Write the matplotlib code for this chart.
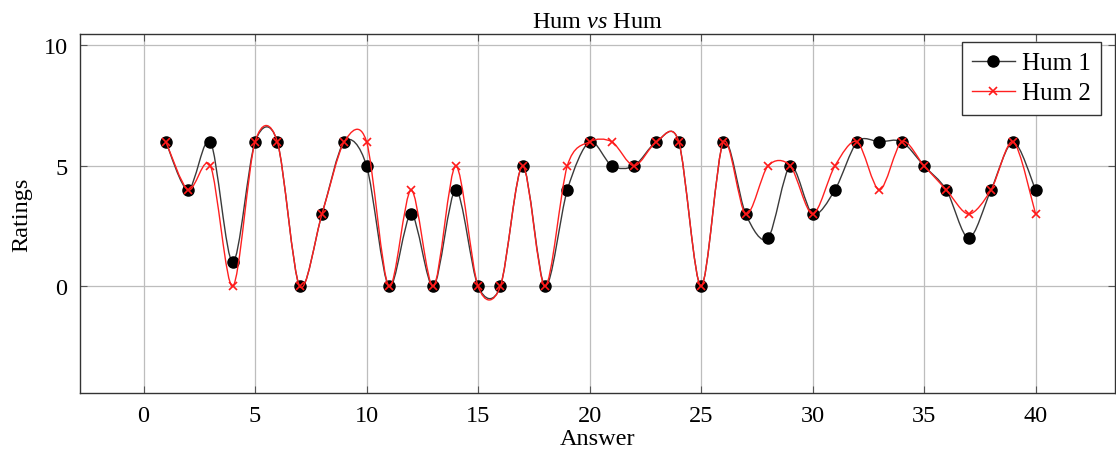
import matplotlib
matplotlib.use('Agg')
import matplotlib.pyplot as plt
import numpy as np
from matplotlib.path import Path
from matplotlib.patches import PathPatch
from matplotlib.lines import Line2D

# Данные
answers = np.arange(1, 41)
hum1 = [6, 4, 6, 1, 6, 6, 0, 3, 6, 5, 0, 3, 0, 4, 0, 0, 5, 0, 4, 6,
        5, 5, 6, 6, 0, 6, 3, 2, 5, 3, 4, 6, 6, 6, 5, 4, 2, 4, 6, 4]
hum2 = [6, 4, 5, 0, 6, 6, 0, 3, 6, 6, 0, 4, 0, 5, 0, 0, 5, 0, 5, 6,
        6, 5, 6, 6, 0, 6, 3, 5, 5, 3, 5, 6, 4, 6, 5, 4, 3, 4, 6, 3]
x_ticks = [0, 5, 10, 15, 20, 25, 30, 35, 40]
y_ticks = [0, 5, 10]

plt.rcParams['font.family'] = ['Liberation Serif', 'DejaVu Serif']
plt.rcParams['mathtext.fontset'] = 'custom'
plt.rcParams['mathtext.it'] = 'Liberation Serif:italic'
plt.rcParams['mathtext.rm'] = 'Liberation Serif'
FS = 17.5


def smooth_path(xs, ys, tension=0.15):
    # гладкая кривая как "smooth" в TikZ (кубические Безье)
    pts = np.column_stack([xs, ys]).astype(float)
    n = len(pts)
    verts = [pts[0]]
    codes = [Path.MOVETO]
    for i in range(n - 1):
        p0 = pts[i - 1] if i > 0 else pts[i]
        p1 = pts[i]
        p2 = pts[i + 1]
        p3 = pts[i + 2] if i + 2 < n else pts[i + 1]
        c1 = p1 + tension * (p2 - p0)
        c2 = p2 - tension * (p3 - p1)
        verts += [c1, c2, p2]
        codes += [Path.CURVE4] * 3
    return Path(verts, codes)


fig = plt.figure(figsize=(11.16, 4.52), dpi=100)
ax = fig.add_axes([80 / 1116, 1 - 394 / 452, 1035 / 1116, (394 - 35) / 452])

ax.add_patch(PathPatch(smooth_path(answers, hum1), fill=False,
                       edgecolor='#3a3a3a', lw=1.0, zorder=3))
ax.plot(answers, hum1, 'o', color='black', markersize=8, zorder=4)
ax.add_patch(PathPatch(smooth_path(answers, hum2), fill=False,
                       edgecolor='#ff2020', lw=1.0, zorder=5))
ax.plot(answers, hum2, 'x', color='#ff1a1a', markersize=5.5, mew=1.2, zorder=6)

ax.set_xlim(-2.85, 43.56)
ax.set_ylim(-4.42, 10.47)
ax.set_xticks(x_ticks)
ax.set_yticks(y_ticks)
ax.tick_params(direction='in', length=5, color='#555555', top=True, right=True,
               labelsize=FS, pad=9)
ax.grid(True, color='#bdbdbd', lw=0.9)
ax.set_axisbelow(True)
for s in ax.spines.values():
    s.set_color('#333333')
    s.set_linewidth(1.0)

ax.set_title(r'Hum $vs$ Hum', fontsize=FS, pad=5)
ax.set_xlabel('Answer', fontsize=FS, labelpad=1)
ax.set_ylabel('Ratings', fontsize=FS, labelpad=8)

handles = [
    Line2D([], [], color='#3a3a3a', lw=1.0, marker='o', markersize=8,
           markerfacecolor='black', markeredgecolor='black'),
    Line2D([], [], color='#ff2020', lw=1.0, marker='x', markersize=5.5,
           markeredgecolor='#ff1a1a', mew=1.2),
]
leg = ax.legend(handles, ['Hum 1', 'Hum 2'], loc='upper right', fontsize=18,
                bbox_to_anchor=(1 - 14 / 1035, 1 - 8 / 359), borderaxespad=0,
                fancybox=False, framealpha=1, edgecolor='#333333',
                handlelength=1.7, handletextpad=0.3,
                labelspacing=0.3, borderpad=0.4)
leg.get_frame().set_linewidth(1.0)

plt.savefig('out.png', dpi=100)
